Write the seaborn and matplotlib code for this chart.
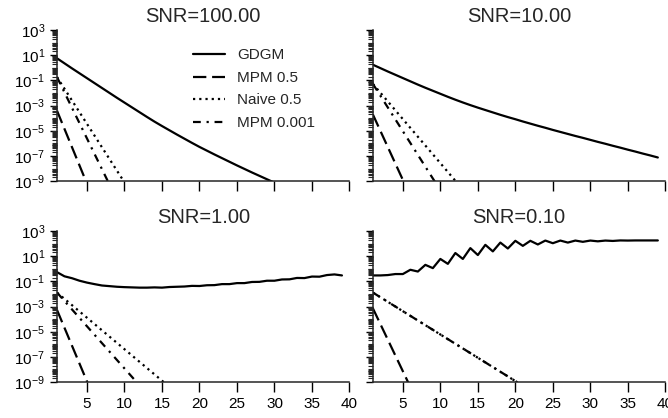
import numpy as np
import matplotlib
matplotlib.use("Agg")
import matplotlib.pyplot as plt
from matplotlib.ticker import LogLocator, FixedLocator, NullFormatter
import seaborn as sns

# ---------------- data (log10 of the error) ----------------
steps = list(range(1, 40))
titles = ["SNR=100.00", "SNR=10.00", "SNR=1.00", "SNR=0.10"]
series_names = ["GDGM", "MPM 0.5", "Naive 0.5", "MPM 0.001"]

# SNR = 100
gdgm_100 = [0.76, 0.36, -0.04, -0.43, -0.82, -1.21, -1.60, -1.99, -2.38, -2.76,
            -3.14, -3.52, -3.90, -4.27, -4.62, -4.96, -5.30, -5.63, -5.96, -6.28,
            -6.58, -6.88, -7.17, -7.46, -7.75, -8.03, -8.31, -8.58, -8.85, -9.12,
            -9.38, -9.64, -9.90, -10.16, -10.42, -10.68, -10.94, -11.20, -11.46]
mpm05_100 = [-3.40, -4.85, -6.30, -7.75, -9.20, -10.65]
naive_100 = [-0.73, -1.66, -2.59, -3.52, -4.45, -5.38, -6.31, -7.24, -8.17, -9.10, -10.03]
mpm001_100 = [-0.73, -1.95, -3.17, -4.39, -5.61, -6.83, -8.05, -9.27, -10.49]

# SNR = 10
gdgm_10 = [0.25, -0.02, -0.29, -0.55, -0.81, -1.07, -1.33, -1.58, -1.82, -2.06,
           -2.30, -2.53, -2.75, -2.96, -3.16, -3.35, -3.54, -3.73, -3.91, -4.08,
           -4.26, -4.43, -4.60, -4.76, -4.93, -5.09, -5.25, -5.41, -5.56, -5.72,
           -5.88, -6.03, -6.19, -6.34, -6.50, -6.65, -6.81, -6.96, -7.12]
mpm05_10 = [-3.70, -5.00, -6.30, -7.60, -8.90, -10.20]
naive_10 = [-1.27, -1.97, -2.67, -3.37, -4.07, -4.77, -5.47, -6.17, -6.87, -7.57,
            -8.27, -8.97, -9.67]
mpm001_10 = [-1.27, -2.21, -3.15, -4.09, -5.03, -5.97, -6.91, -7.85, -8.79, -9.73]

# SNR = 1
gdgm_1 = [-0.27, -0.60, -0.75, -0.95, -1.10, -1.22, -1.33, -1.38, -1.43, -1.46,
          -1.48, -1.50, -1.50, -1.48, -1.50, -1.45, -1.43, -1.41, -1.36, -1.37,
          -1.31, -1.30, -1.22, -1.22, -1.14, -1.14, -1.05, -1.04, -0.95, -0.95,
          -0.85, -0.84, -0.73, -0.74, -0.62, -0.63, -0.50, -0.45, -0.53]
mpm05_1 = [-3.27, -4.69, -6.11, -7.53, -8.95, -10.37]
naive_1 = [-1.89, -2.39, -2.89, -3.39, -3.89, -4.39, -4.89, -5.39, -5.89, -6.39,
           -6.89, -7.39, -7.89, -8.39, -8.89, -9.39]
mpm001_1 = [-1.89, -2.56, -3.23, -3.90, -4.57, -5.24, -5.91, -6.58, -7.25, -7.92,
            -8.59, -9.26]

# SNR = 0.1
gdgm_01 = [-0.53, -0.53, -0.50, -0.42, -0.42, -0.08, -0.22, 0.31, 0.05, 0.78,
           0.39, 1.25, 0.78, 1.64, 1.09, 1.90, 1.38, 2.08, 1.61, 2.22,
           1.82, 2.22, 1.93, 2.24, 2.03, 2.24, 2.08, 2.24, 2.14, 2.24,
           2.18, 2.24, 2.21, 2.25, 2.24, 2.25, 2.25, 2.25, 2.25]
mpm05_01 = [-3.14, -4.39, -5.64, -6.89, -8.14, -9.39]
naive_01 = [-1.89, -2.26, -2.63, -3.00, -3.37, -3.74, -4.11, -4.48, -4.85, -5.22,
            -5.59, -5.96, -6.33, -6.70, -7.07, -7.44, -7.81, -8.18, -8.55, -8.92, -9.29]
mpm001_01 = [-1.89, -2.26, -2.63, -3.00, -3.37, -3.74, -4.11, -4.48, -4.85, -5.22,
             -5.59, -5.96, -6.33, -6.70, -7.07, -7.44, -7.81, -8.18, -8.55, -8.92, -9.29]

panels = [
    [gdgm_100, mpm05_100, naive_100, mpm001_100],
    [gdgm_10, mpm05_10, naive_10, mpm001_10],
    [gdgm_1, mpm05_1, naive_1, mpm001_1],
    [gdgm_01, mpm05_01, naive_01, mpm001_01],
]

x_ticks = [5, 10, 15, 20, 25, 30, 35, 40]
y_exponents = [3, 1, -1, -3, -5, -7, -9]

# ---------------- styling ----------------
sns.set_theme(context="notebook", style="ticks")
plt.rcParams["font.family"] = ["Liberation Sans", "DejaVu Sans"]
plt.rcParams["axes.linewidth"] = 1.1

line_styles = ["-", (0, (6, 2.6)), (0, (1, 1.8)), (0, (3.5, 2.6, 1, 2.6))]

fig, axes = plt.subplots(2, 2, figsize=(6.68, 4.18), dpi=100, sharex=True, sharey=True)
fig.subplots_adjust(left=0.0853, right=0.996, top=0.928, bottom=0.086,
                    wspace=0.08, hspace=0.33)

for idx, ax in enumerate(axes.flat):
    for s_idx, vals in enumerate(panels[idx]):
        xs = steps[:len(vals)]
        ys = 10.0 ** np.array(vals)
        sns.lineplot(x=xs, y=ys, ax=ax, color="black", lw=1.6,
                     linestyle=line_styles[s_idx], label=series_names[s_idx],
                     legend=False)
    ax.set_yscale("log")
    ax.set_ylim(1e-9, 1e3)
    ax.set_xlim(1, 40)
    ax.set_title(titles[idx], fontsize=14.5, pad=6)
    ax.yaxis.set_major_locator(FixedLocator([10.0 ** e for e in y_exponents]))
    ax.yaxis.set_minor_locator(LogLocator(base=10, subs=np.arange(1, 10), numticks=200))
    ax.yaxis.set_minor_formatter(NullFormatter())
    ax.set_xticks(x_ticks)
    ax.tick_params(axis="y", which="major", length=5, width=1)
    ax.tick_params(axis="y", which="minor", length=3.5, width=0.8)
    ax.tick_params(axis="x", which="major", length=7, width=1)
    ax.tick_params(labelsize=11, colors="black")
    sns.despine(ax=ax)
    if idx % 2 == 0:
        ax.set_yticklabels([r"$\mathdefault{10^{%d}}$" % e for e in y_exponents])

leg_ax = axes[0, 0]
leg = leg_ax.legend(loc="upper right", bbox_to_anchor=(0.93, 0.97), frameon=False,
                    fontsize=11, handlelength=2.1, labelspacing=0.56, handletextpad=0.8)

fig.savefig("out.png", dpi=100)
